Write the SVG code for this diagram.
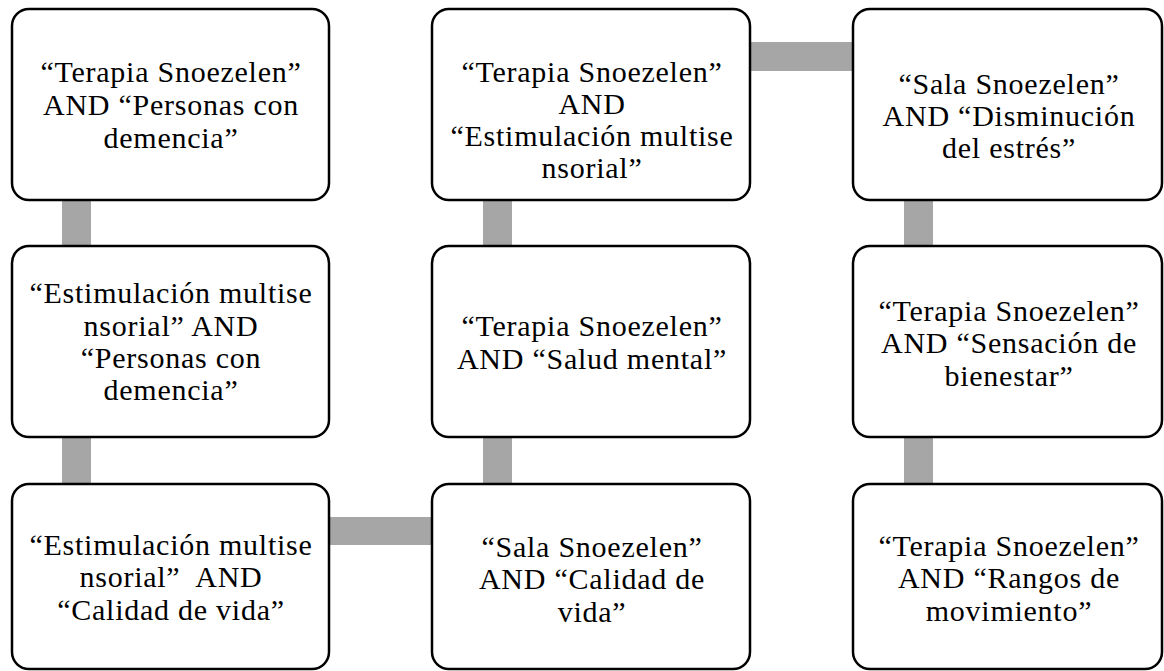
<svg xmlns="http://www.w3.org/2000/svg" width="1164" height="671" viewBox="0 0 1164 671">
<style>
.box{fill:#fff;stroke:#000;stroke-width:2.5}
.t{font-family:"Liberation Serif","Times New Roman",serif;font-size:30px;letter-spacing:0.75px;fill:#000;text-anchor:middle}
.c{fill:#a6a6a6}
</style>
<g id="connectors">
<rect class="c" x="62" y="199" width="29" height="50"/>
<rect class="c" x="62" y="436" width="29" height="50"/>
<rect class="c" x="328" y="517" width="106" height="28"/>
<rect class="c" x="483" y="436" width="29" height="50"/>
<rect class="c" x="483" y="199" width="29" height="50"/>
<rect class="c" x="749" y="42" width="106" height="29"/>
<rect class="c" x="904" y="199" width="29" height="50"/>
<rect class="c" x="904" y="436" width="29" height="50"/>
</g>
<g id="n1">
<rect class="box" x="12" y="9" width="317" height="191" rx="17"/>
<text class="t"><tspan x="171" y="82">“Terapia Snoezelen”</tspan><tspan x="171" y="115">AND “Personas con</tspan><tspan x="171" y="148">demencia”</tspan></text>
</g>
<g id="n2">
<rect class="box" x="12" y="246" width="317" height="191" rx="17"/>
<text class="t"><tspan x="171" y="303">“Estimulación multise</tspan><tspan x="171" y="336">nsorial” AND</tspan><tspan x="171" y="368">“Personas con</tspan><tspan x="171" y="400">demencia”</tspan></text>
</g>
<g id="n3">
<rect class="box" x="12" y="484" width="317" height="185" rx="17"/>
<text class="t"><tspan x="171" y="555">“Estimulación multise</tspan><tspan x="171" y="587" xml:space="preserve">nsorial”  AND</tspan><tspan x="171" y="620">“Calidad de vida”</tspan></text>
</g>
<g id="n4">
<rect class="box" x="432" y="484" width="318" height="185" rx="17"/>
<text class="t"><tspan x="592" y="557">“Sala Snoezelen”</tspan><tspan x="592" y="589">AND “Calidad de</tspan><tspan x="592" y="622">vida”</tspan></text>
</g>
<g id="n5">
<rect class="box" x="432" y="246" width="318" height="191" rx="17"/>
<text class="t"><tspan x="592" y="336">“Terapia Snoezelen”</tspan><tspan x="592" y="369">AND “Salud mental”</tspan></text>
</g>
<g id="n6">
<rect class="box" x="432" y="9" width="318" height="191" rx="17"/>
<text class="t"><tspan x="592" y="82">“Terapia Snoezelen”</tspan><tspan x="592" y="114">AND</tspan><tspan x="592" y="146">“Estimulación multise</tspan><tspan x="592" y="178">nsorial”</tspan></text>
</g>
<g id="n7">
<rect class="box" x="853" y="9" width="309" height="191" rx="17"/>
<text class="t"><tspan x="1009" y="94">“Sala Snoezelen”</tspan><tspan x="1009" y="126">AND “Disminución</tspan><tspan x="1009" y="158">del estrés”</tspan></text>
</g>
<g id="n8">
<rect class="box" x="853" y="246" width="309" height="191" rx="17"/>
<text class="t"><tspan x="1009" y="321">“Terapia Snoezelen”</tspan><tspan x="1009" y="353">AND “Sensación de</tspan><tspan x="1009" y="386">bienestar”</tspan></text>
</g>
<g id="n9">
<rect class="box" x="853" y="484" width="309" height="185" rx="17"/>
<text class="t"><tspan x="1009" y="556">“Terapia Snoezelen”</tspan><tspan x="1009" y="588">AND “Rangos de</tspan><tspan x="1009" y="621">movimiento”</tspan></text>
</g>
</svg>
